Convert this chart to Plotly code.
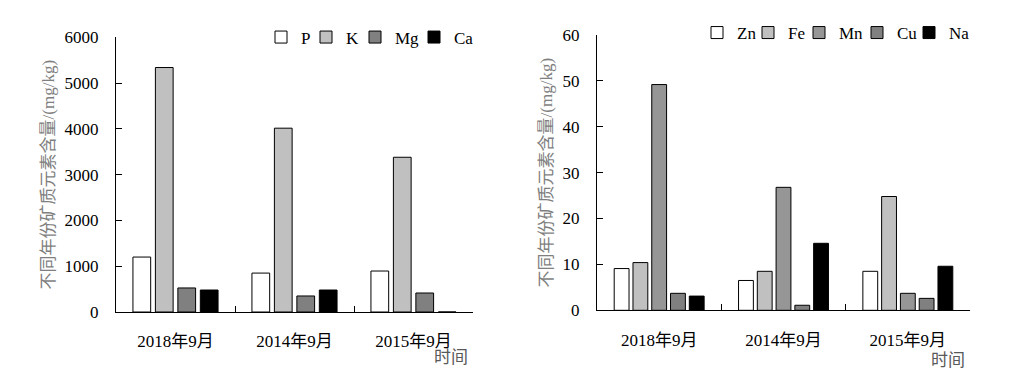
import plotly.graph_objects as go

categories = ["2018年9月", "2014年9月", "2015年9月"]

# Left chart: macro elements (mg/kg)
left_names = ["P", "K", "Mg", "Ca"]
P = [1200, 850, 895]
K = [5340, 4015, 3380]
Mg = [525, 350, 415]
Ca = [480, 480, 0]
left_values = [P, K, Mg, Ca]
left_colors = ["#ffffff", "#c0c0c0", "#808080", "#000000"]

# Right chart: trace elements (mg/kg)
right_names = ["Zn", "Fe", "Mn", "Cu", "Na"]
Zn = [9.1, 6.5, 8.5]
Fe = [10.4, 8.5, 24.8]
Mn = [49.2, 26.8, 3.7]
Cu = [3.7, 1.1, 2.6]
Na = [3.1, 14.6, 9.6]
right_values = [Zn, Fe, Mn, Cu, Na]
right_colors = ["#ffffff", "#c0c0c0", "#969696", "#808080", "#000000"]

left_ticks = [0, 1000, 2000, 3000, 4000, 5000, 6000]
right_ticks = [0, 10, 20, 30, 40, 50, 60]

ytitle = "不同年份矿质元素含量/(mg/kg)"
xtitle = "时间"

FONT = "Liberation Serif, Noto Sans CJK SC, serif"
# page body has an 8px margin; the figure is sized to fit the window
OX, OY = 8, 8
W, H = 1002, 368

def px_x(p):
    return (p - OX) / W

def px_y(p):
    return 1 - (p - OY) / H

# legend entry anchor positions (page px) and vertical centres
left_leg_x = [261, 306, 355, 414]
right_leg_x = [697, 748, 799, 857, 909]
left_leg_y = 37.5
right_leg_y = 33

fig = go.Figure()
legends = {}
k = 1
for name, vals, col, lx in zip(left_names, left_values, left_colors, left_leg_x):
    lname = "legend" if k == 1 else f"legend{k}"
    fig.add_trace(go.Bar(x=categories, y=vals, name=name, xaxis="x", yaxis="y",
                         marker=dict(color=col, line=dict(color="#000000", width=1)),
                         legend=lname, showlegend=True))
    legends[lname] = dict(x=px_x(lx), y=px_y(left_leg_y))
    k += 1
for name, vals, col, lx in zip(right_names, right_values, right_colors, right_leg_x):
    lname = f"legend{k}"
    fig.add_trace(go.Bar(x=categories, y=vals, name=name, xaxis="x2", yaxis="y2",
                         marker=dict(color=col, line=dict(color="#000000", width=1)),
                         legend=lname, showlegend=True))
    legends[lname] = dict(x=px_x(lx), y=px_y(right_leg_y))
    k += 1

for lname, pos in legends.items():
    fig.update_layout({lname: dict(orientation="h", x=pos["x"], y=pos["y"],
                                   xanchor="left", yanchor="middle",
                                   bgcolor="rgba(0,0,0,0)", borderwidth=0,
                                   font=dict(family=FONT, size=17, color="#000000"))})

xaxis_common = dict(type="category", showline=True, linecolor="#000000", linewidth=1,
                    ticks="inside", tickson="boundaries", ticklen=6, tickcolor="#000000",
                    showgrid=False, zeroline=False, ticklabelstandoff=14, automargin=False,
                    tickfont=dict(family=FONT, size=17, color="#000000"))
yaxis_common = dict(showline=True, linecolor="#000000", linewidth=1, ticks="inside",
                    ticklen=6, tickcolor="#000000", showgrid=False, zeroline=False,
                    ticklabelstandoff=13, automargin=False,
                    tickfont=dict(family=FONT, size=17, color="#000000"),
                    title=dict(text=ytitle, font=dict(family=FONT, size=17, color="#7f7f7f"),
                               standoff=5))

fig.update_layout(
    template="none",
    showlegend=True,
    width=W, height=H,
    margin=dict(l=0, r=0, t=0, b=0, autoexpand=False),
    paper_bgcolor="#ffffff", plot_bgcolor="#ffffff",
    barmode="group", bargap=0.245, bargroupgap=0.21,
    font=dict(family=FONT, size=17, color="#000000"),
    xaxis=dict(domain=[px_x(116), px_x(473)], anchor="y", **xaxis_common),
    yaxis=dict(domain=[px_y(312), px_y(37.3)], anchor="x", range=[0, 6000],
               tickvals=left_ticks, **yaxis_common),
    xaxis2=dict(domain=[px_x(597), px_x(970)], anchor="y2", **xaxis_common),
    yaxis2=dict(domain=[px_y(310.3), px_y(35)], anchor="x2", range=[0, 60],
                tickvals=right_ticks, **yaxis_common),
    annotations=[
        dict(text=xtitle, xref="paper", yref="paper", x=px_x(470), y=px_y(357),
             xanchor="right", yanchor="middle", showarrow=False,
             font=dict(family=FONT, size=17, color="#595959")),
        dict(text=xtitle, xref="paper", yref="paper", x=px_x(967), y=px_y(360),
             xanchor="right", yanchor="middle", showarrow=False,
             font=dict(family=FONT, size=17, color="#595959")),
    ],
)

fig.write_html("out.html")
